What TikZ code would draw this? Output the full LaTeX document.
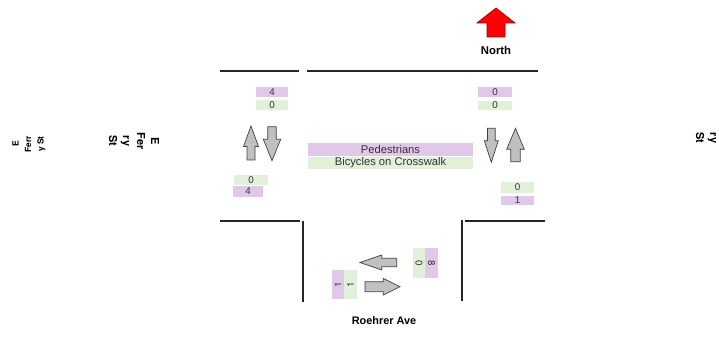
\documentclass[tikz,border=0pt]{standalone}
\usepackage{fontspec}
\setmainfont{Liberation Sans}
\newfontfamily\rotfont{TeX Gyre Heros}
\definecolor{pur}{HTML}{E1C8E9}
\definecolor{grn}{HTML}{E2EFD9}
\definecolor{agray}{HTML}{C0C0C0}
\definecolor{txt}{HTML}{333333}
\newcommand\vArr[7][garrow]{\draw[#1] (#2,#3) -- ({#2+#6},#4) -- ({#2+#7},#4) -- ({#2+#7},#5) -- ({#2-#7},#5) -- ({#2-#7},#4) -- ({#2-#6},#4) -- cycle;}
\newcommand\hArr[7][garrow]{\draw[#1] (#3,#2) -- (#4,{#2-#6}) -- (#4,{#2-#7}) -- (#5,{#2-#7}) -- (#5,{#2+#7}) -- (#4,{#2+#7}) -- (#4,{#2+#6}) -- cycle;}
\tikzset{
  road/.style={line width=1.3pt, draw=black!85},
  garrow/.style={fill=agray, draw=black!75, line width=0.7pt, line join=miter},
  narrow/.style={fill=red, draw=red!60!black, line width=0.7pt, line join=miter},
  lab/.style={inner sep=0pt, text=txt, font=\fontsize{9.8}{10}\selectfont},
  rlab/.style={lab, font=\rotfont\fontsize{9.8}{10}\selectfont},
  plab/.style={lab, fill=pur},
  glab/.style={lab, fill=grn},
  rplab/.style={rlab, fill=pur},
  rglab/.style={rlab, fill=grn},
  street/.style={inner sep=0pt, font=\rotfont\bfseries\fontsize{11}{14}\selectfont, align=center},
}
\begin{document}
\begin{tikzpicture}[x=1pt,y=-1pt]
\useasboundingbox (0,0) rectangle (719,352);
% road edges
\draw[road] (220,71) -- (299,71);
\draw[road] (307,71) -- (538,71);
\draw[road] (220,221) -- (300,221);
\draw[road] (303,221) -- (303,302);
\draw[road] (462,220) -- (462,301);
\draw[road] (465,221) -- (545,221);
% movement arrows
\vArr{251}{126}{146.5}{160}{7.5}{4}
\vArr{272}{160.7}{139.3}{126.7}{8.7}{4.2}
\vArr{491.3}{162.3}{140.7}{128.3}{7}{3.9}
\vArr{515.5}{128.3}{149.3}{161.7}{8.8}{4.7}
\hArr{262.5}{360}{381.7}{396.7}{7.5}{4.2}
\hArr{286.7}{400}{383.3}{365}{8.3}{5}
% north arrow
\vArr[narrow]{496}{8}{23}{37}{19}{9}
\node[inner sep=0pt, font=\bfseries\fontsize{11.3}{12}\selectfont] (north) at (496,50.3) {North};
% counts
\node[plab, minimum width=32pt, minimum height=10pt] (lt1) at (272,92) {4};
\node[glab, minimum width=32pt, minimum height=10pt] (lt2) at (272,105) {0};
\node[glab, minimum width=34pt, minimum height=10pt] (lb1) at (251,180) {0};
\node[plab, minimum width=30pt, minimum height=11pt] (lb2) at (248,191.5) {4};
\node[plab, minimum width=34pt, minimum height=10pt] (rt1) at (495,92) {0};
\node[glab, minimum width=34pt, minimum height=9.5pt] (rt2) at (495,105.5) {0};
\node[glab, minimum width=33pt, minimum height=11pt] (rb1) at (517.5,187.5) {0};
\node[plab, minimum width=33pt, minimum height=9.5pt] (rb2) at (517.5,200.5) {1};
\node[rglab, minimum width=30pt, minimum height=12pt, rotate=-90] (br1) at (419,263) {0};
\node[rplab, minimum width=30pt, minimum height=13pt, rotate=-90] (br2) at (431.5,263) {8};
\node[rplab, minimum width=29pt, minimum height=12pt, rotate=90] (bl1) at (338,284.5) {1};
\node[rglab, minimum width=29pt, minimum height=13pt, rotate=90] (bl2) at (350.5,284.5) {1};
% crosswalk legend
\node[plab, minimum width=165pt, minimum height=13pt, font=\fontsize{11.2}{12}\selectfont] (ped) at (390.5,149.5) {Pedestrians};
\node[glab, minimum width=165pt, minimum height=12pt, font=\fontsize{11.2}{12}\selectfont] (bic) at (390.5,163) {Bicycles on Crosswalk};
% street names
\node[street, rotate=-90] (ferry) at (134,141) {E\\Fer\\ry\\St};
\node[inner sep=0pt, font=\rotfont\bfseries\fontsize{8.5}{12.5}\selectfont, align=center, rotate=90] (ferrys) at (29,144) {E\\Ferr\\y St};
\node[street, rotate=-90] (ferryr) at (706,138) {ry\\St};
\node[inner sep=0pt, font=\bfseries\fontsize{10.9}{12}\selectfont] (roehrer) at (384,320.5) {Roehrer Ave};
\end{tikzpicture}
\end{document}
